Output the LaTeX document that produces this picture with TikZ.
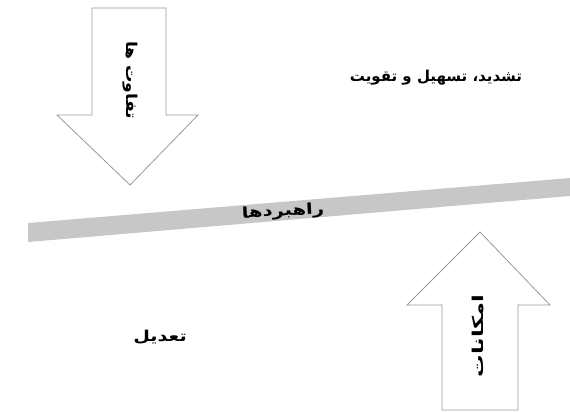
\documentclass[tikz,border=0pt]{standalone}
\usepackage{fontspec}
\newfontfamily\arabicfont[Script=Arabic]{DejaVu Sans}
\TeXXeTstate=1
\begin{document}
\begin{tikzpicture}[x=1pt,y=-1pt,
  arrowshape/.style={draw=black!40, line width=0.8pt, fill=white, line join=miter},
  lbl/.style={font=\arabicfont\bfseries\fontsize{15}{17}\selectfont, inner sep=0pt}]
\useasboundingbox (0,0) rectangle (570,412);
% gray band
\fill[black!22] (28,223) -- (570,178) -- (570,196) -- (28,242) -- cycle;
% down arrow
\draw[arrowshape] (92,8) -- (166,8) -- (166,115) -- (198,115) -- (130,185) -- (57,115) -- (92,115) -- cycle;
% up arrow
\draw[arrowshape] (442,410) -- (518,410) -- (518,305) -- (550,305) -- (480,232) -- (407,305) -- (442,305) -- cycle;
\node[lbl, rotate=-90] (diff) at (130,80) {\scalebox{1.15}[1]{\beginR تفاوت ها\endR}};
\node[lbl] (top) at (436,78) {\beginR تشدید، تسهیل و تقویت\endR};
\node[lbl, rotate=3] (strat) at (283,212) {\scalebox{1.3}[1]{\beginR راهبردها\endR}};
\node[lbl, rotate=90] (poss) at (478,336) {\scalebox{1.5}[1]{\beginR امکانات\endR}};
\node[lbl] (adj) at (160,337) {\scalebox{1.28}[1]{\beginR تعدیل\endR}};
\end{tikzpicture}
\end{document}
